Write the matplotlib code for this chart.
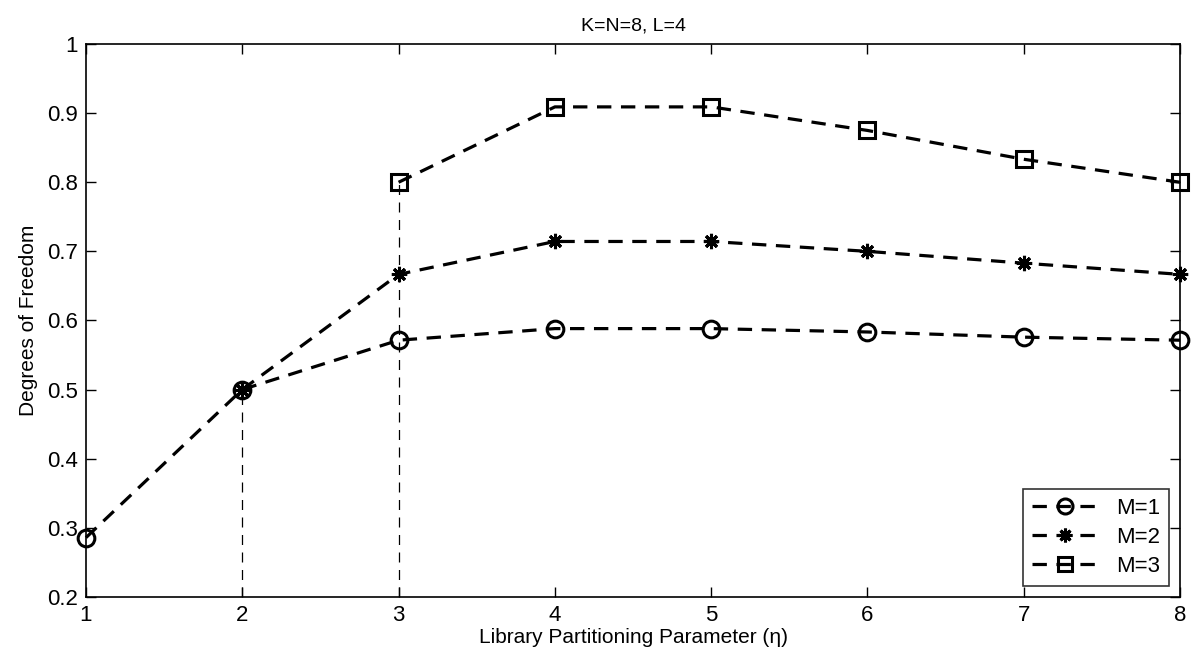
import numpy as np
import matplotlib
matplotlib.use("Agg")
import matplotlib.pyplot as plt

plt.rcParams['font.family'] = ['Liberation Sans', 'DejaVu Sans']

eta = [1, 2, 3, 4, 5, 6, 7, 8]
dof_m1 = [0.2857, 0.5, 0.5714, 0.5882, 0.5882, 0.5833, 0.5758, 0.5714]
eta_m2 = [2, 3, 4, 5, 6, 7, 8]
dof_m2 = [0.5, 0.6667, 0.7143, 0.7143, 0.7, 0.6829, 0.6667]
eta_m3 = [3, 4, 5, 6, 7, 8]
dof_m3 = [0.8, 0.9091, 0.9091, 0.875, 0.8333, 0.8]

fig = plt.figure(figsize=(12.01, 6.58), dpi=100)
ax = fig.add_axes([0.0716, 0.093, 0.911, 0.84])

# thin guide lines down to the axis
ax.plot([2, 2], [0.2, dof_m1[1]], color='black', lw=0.9, ls=(0, (8, 6)))
ax.plot([3, 3], [0.2, dof_m3[0]], color='black', lw=0.9, ls=(0, (8, 6)))

dash = (0, (4.5, 3.0))
ax.plot(eta, dof_m1, color='black', lw=2.3, ls=dash, marker='o', ms=12,
        mfc='none', mew=2.2, label='M=1', clip_on=False)
ax.plot(eta_m2, dof_m2, color='black', lw=2.3, ls=dash, marker=(8, 2, 0), ms=11,
        mew=2.2, label='M=2', clip_on=False)
ax.plot(eta_m3, dof_m3, color='black', lw=2.3, ls=dash, marker='s', ms=11,
        mfc='none', mew=2.2, label='M=3', clip_on=False)

ax.set_xlim(1, 8)
ax.set_ylim(0.2, 1)
ax.set_xticks(eta)
ax.set_yticks(np.arange(0.2, 1.01, 0.1))
ax.set_yticklabels(['0.2', '0.3', '0.4', '0.5', '0.6', '0.7', '0.8', '0.9', '1'])
ax.tick_params(direction='in', top=True, right=True, length=7, width=1,
               labelsize=16, pad=6)
for s in ax.spines.values():
    s.set_linewidth(1.2)

ax.set_title('K=N=8, L=4', fontsize=14, pad=10)
ax.set_xlabel('Library Partitioning Parameter (\u03b7)', fontsize=15, labelpad=1)
ax.set_ylabel('Degrees of Freedom', fontsize=15, labelpad=6)

leg = ax.legend(loc='lower right', fontsize=16, frameon=True, fancybox=False,
                edgecolor='black', handlelength=3.0, borderaxespad=0.5,
                labelspacing=0.35, markerscale=0.9, borderpad=0.4)
leg.get_frame().set_linewidth(1.2)

fig.savefig('out.png', dpi=100)
